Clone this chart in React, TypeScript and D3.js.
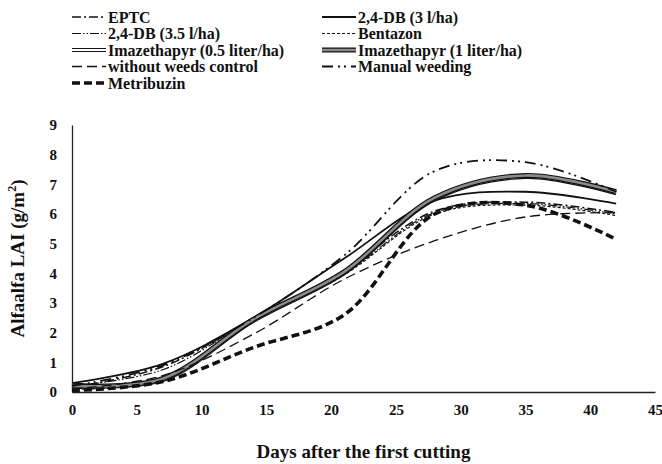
import React, { useEffect, useRef } from 'react';
import * as d3 from 'd3';

// sampling days (days after the first cutting)
const DAYS = [0, 7, 14, 21, 28, 35, 42];

// LAI readings per treatment
const EPTC = [0.15, 0.85, 2.45, 4.1, 6.1, 6.4, 6.05];
const DB_3 = [0.3, 0.95, 2.5, 4.5, 6.45, 6.75, 6.35];
const DB_35 = [0.2, 0.75, 2.45, 4.0, 6.05, 6.35, 6.0];
const BENTAZON = [0.1, 0.4, 2.35, 3.95, 6.0, 6.3, 5.95];
const IMAZ_05 = [0.25, 0.4, 2.4, 4.0, 6.5, 7.25, 6.7];
const IMAZ_1 = [0.2, 0.45, 2.45, 4.05, 6.55, 7.3, 6.75];
const NO_CONTROL = [0.1, 0.55, 1.95, 3.8, 5.1, 5.9, 6.05];
const MANUAL = [0.2, 0.9, 2.5, 4.6, 7.45, 7.75, 6.75];
const METRIBUZIN = [0.05, 0.35, 1.5, 2.6, 6.0, 6.3, 5.15];

const NAMES = [
  'EPTC', '2,4-DB (3 l/ha)',
  '2,4-DB (3.5 l/ha)', 'Bentazon',
  'Imazethapyr (0.5 liter/ha)', 'Imazethapyr (1 liter/ha)',
  'without weeds control', 'Manual weeding',
  'Metribuzin',
];
const VALUES = [EPTC, DB_3, DB_35, BENTAZON, IMAZ_05, IMAZ_1, NO_CONTROL, MANUAL, METRIBUZIN];

const X_TICKS = [0, 5, 10, 15, 20, 25, 30, 35, 40, 45];
const Y_TICKS = [0, 1, 2, 3, 4, 5, 6, 7, 8, 9];

// line look per treatment: outer stroke, optional inner stroke (double lines)
type Look = { w: number; dash?: string; inner?: string; innerW?: number };
const LOOKS: Look[] = [
  { w: 1.5, dash: '9 3 2 3' },
  { w: 1.8 },
  { w: 1.2, dash: '9 2 1.5 2 1.5 2' },
  { w: 1.2, dash: '3 2' },
  { w: 4, inner: '#fff', innerW: 1.8 },
  { w: 5, inner: '#8a8a8a', innerW: 2.6 },
  { w: 1.3, dash: '10 5' },
  { w: 1.8, dash: '11 5 2 4 2 5' },
  { w: 3.6, dash: '8 4' },
];

const W = 662;
const H = 464;
const FONT = '"Liberation Serif", "Times New Roman", serif';

const App: React.FC = () => {
  const svgRef = useRef<SVGSVGElement | null>(null);

  useEffect(() => {
    if (!svgRef.current) return;
    const svg = d3.select(svgRef.current);
    svg.selectAll('*').remove();

    const x = d3.scaleLinear().domain([0, 45]).range([72, 655]);
    const y = d3.scaleLinear().domain([0, 9]).range([392, 125]);

    // axes
    const xAxis = svg.append('g').attr('transform', `translate(0,${y(0)})`)
      .call(d3.axisBottom(x).tickValues(X_TICKS).tickSize(0).tickPadding(12));
    const yAxis = svg.append('g').attr('transform', `translate(${x(0)},0)`)
      .call(d3.axisLeft(y).tickValues(Y_TICKS).tickSize(0).tickPadding(15));
    [xAxis, yAxis].forEach((g) => {
      g.select('.domain').attr('stroke', '#222').attr('stroke-width', 1.3);
      g.selectAll('text')
        .attr('font-family', FONT)
        .attr('font-weight', 'bold')
        .attr('font-size', 15)
        .attr('fill', '#111');
    });

    // curves
    const line = d3.line<number>()
      .x((_, i) => x(DAYS[i]))
      .y((d) => y(d))
      .curve(d3.curveCatmullRom.alpha(0.5));

    VALUES.forEach((vals, i) => {
      const lk = LOOKS[i];
      svg.append('path')
        .attr('d', line(vals))
        .attr('fill', 'none')
        .attr('stroke', '#111')
        .attr('stroke-width', lk.w)
        .attr('stroke-dasharray', lk.dash ?? null);
      if (lk.inner) {
        svg.append('path')
          .attr('d', line(vals))
          .attr('fill', 'none')
          .attr('stroke', lk.inner)
          .attr('stroke-width', lk.innerW ?? 1);
      }
    });

    // legend, two columns
    const leg = svg.append('g');
    NAMES.forEach((name, i) => {
      const lk = LOOKS[i];
      const col = i % 2;
      const row = Math.floor(i / 2);
      const lx = col === 0 ? 72 : 322;
      const ly = 17 + row * 16.5;
      leg.append('line')
        .attr('x1', lx).attr('x2', lx + 34).attr('y1', ly).attr('y2', ly)
        .attr('stroke', '#111')
        .attr('stroke-width', lk.w)
        .attr('stroke-dasharray', lk.dash ?? null);
      if (lk.inner) {
        leg.append('line')
          .attr('x1', lx).attr('x2', lx + 34).attr('y1', ly).attr('y2', ly)
          .attr('stroke', lk.inner)
          .attr('stroke-width', lk.innerW ?? 1);
      }
      leg.append('text')
        .attr('x', lx + 36).attr('y', ly)
        .attr('dy', '0.35em')
        .attr('font-family', FONT)
        .attr('font-weight', 'bold')
        .attr('font-size', 16)
        .attr('fill', '#111')
        .text(name);
    });

    // axis titles
    const yt = svg.append('text')
      .attr('transform', `translate(24,${(y(0) + y(9)) / 2}) rotate(-90)`)
      .attr('text-anchor', 'middle')
      .attr('font-family', FONT)
      .attr('font-weight', 'bold')
      .attr('font-size', 19)
      .attr('fill', '#111');
    yt.append('tspan').text('Alfaalfa LAI (g/m');
    yt.append('tspan').attr('font-size', 12).attr('dy', -8).text('2');
    yt.append('tspan').attr('dy', 8).text(')');

    svg.append('text')
      .attr('x', (x(0) + x(45)) / 2)
      .attr('y', 458)
      .attr('text-anchor', 'middle')
      .attr('font-family', FONT)
      .attr('font-weight', 'bold')
      .attr('font-size', 19)
      .attr('fill', '#111')
      .text('Days after the first cutting');
  }, []);

  return (
    <svg
      ref={svgRef}
      width={W}
      height={H}
      style={{ position: 'absolute', left: 0, top: 0, background: '#fff' }}
    />
  );
};

export default App;
